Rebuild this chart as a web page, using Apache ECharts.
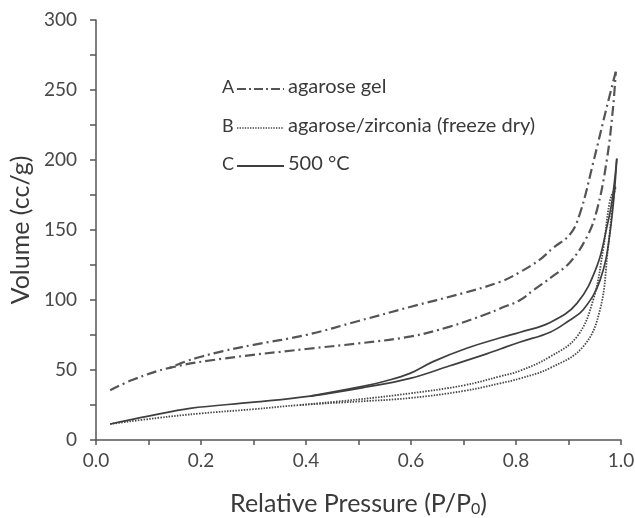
<!DOCTYPE html>
<html>
<head>
<meta charset="utf-8">
<script src="https://cdn.jsdelivr.net/npm/echarts@6/dist/echarts.min.js"></script>
<style>html,body{margin:0;padding:0;background:#fff}#c{width:635px;height:518px}</style>
</head>
<body>
<div id="c"></div>
<script>
// Sample A: agarose gel (dash-dot)
var pA_ads = [0.027, 0.07, 0.14, 0.24, 0.4, 0.5, 0.6, 0.674, 0.744, 0.77, 0.808, 0.833, 0.87, 0.903, 0.935, 0.954, 0.973, 0.985, 0.99];
var vA_ads = [35.5, 43, 51.5, 58, 65, 69, 74, 81, 90, 94, 100, 107, 117, 127, 145, 164, 200, 238, 263];
var pA_des = [0.99, 0.973, 0.947, 0.922, 0.903, 0.87, 0.846, 0.808, 0.77, 0.7, 0.598, 0.5, 0.4, 0.3, 0.242, 0.2, 0.17, 0.14];
var vA_des = [263, 238, 198, 162, 147, 137, 129, 120, 113, 105, 95, 85, 75, 68, 63.5, 59.5, 56, 51.5];
// Sample B: agarose/zirconia freeze dry (dotted)
var pB_ads = [0.027, 0.116, 0.2, 0.3, 0.389, 0.5, 0.598, 0.7, 0.77, 0.808, 0.865, 0.928, 0.96, 0.975, 0.985, 0.99];
var vB_ads = [11.4, 15.7, 19, 22, 25, 27.5, 30, 35, 40.5, 44, 51.4, 66.7, 93, 136, 171, 181];
var pB_des = [0.99, 0.979, 0.966, 0.947, 0.916, 0.865, 0.808, 0.77, 0.7, 0.598, 0.5, 0.389];
var vB_des = [181, 171, 136, 100, 73.8, 59.5, 49.5, 45.5, 39, 33.3, 29, 25];
// Sample C: 500 °C (solid)
var pC_ads = [0.027, 0.1, 0.179, 0.3, 0.408, 0.51, 0.598, 0.674, 0.744, 0.77, 0.808, 0.865, 0.9, 0.928, 0.96, 0.979, 0.992];
var vC_ads = [11.4, 17, 22.6, 27, 31.4, 37.5, 44, 53, 61.5, 65, 70, 77, 85, 93, 114, 148, 201];
var pC_des = [0.992, 0.983, 0.973, 0.954, 0.916, 0.865, 0.808, 0.77, 0.706, 0.642, 0.598, 0.55, 0.51, 0.408];
var vC_des = [201, 171, 152, 124, 97.6, 84, 77, 73, 65.5, 56, 47.6, 42, 38.5, 31.4];

var legendKeys = ['A', 'B', 'C'];
var legendNames = ['agarose gel', 'agarose/zirconia (freeze dry)', '500 °C'];

var FONT = 'Lato, "Open Sans", sans-serif';
var TXT = '#3a3a3a';
var styles = [
  {color: '#555555', width: 2.2, type: [10, 4, 2, 4]},
  {color: '#4a4a4a', width: 1.8, type: [1.5, 1.3]},
  {color: '#3f3f3f', width: 1.7, type: 'solid'}
];

function zip(p, v) { return p.map(function (x, i) { return [x, v[i]]; }); }
var branches = [
  [0, pA_ads, vA_ads], [0, pA_des, vA_des],
  [1, pB_ads, vB_ads], [1, pB_des, vB_des],
  [2, pC_ads, vC_ads], [2, pC_des, vC_des]
];
var series = branches.map(function (b) {
  var s = styles[b[0]];
  return {
    type: 'line', data: zip(b[1], b[2]), showSymbol: false, smooth: 0.4,
    lineStyle: {color: s.color, width: s.width, type: s.type}, silent: true
  };
});

var graphic = [];
var rowY = [89, 128, 166];
legendKeys.forEach(function (k, i) {
  var s = styles[i];
  graphic.push({type: 'text', left: 222, top: rowY[i] - 11,
    style: {text: k, font: '18px ' + FONT, fill: TXT}});
  graphic.push({type: 'line', shape: {x1: 237, y1: rowY[i], x2: 284, y2: rowY[i]},
    style: {stroke: s.color, lineWidth: i === 1 ? 1.5 : 1.8, lineDash: s.type === 'solid' ? null : (i === 0 ? [9, 3, 2, 3] : [1.4, 1.2])}});
  graphic.push({type: 'text', left: 288, top: rowY[i] - 12,
    style: {text: legendNames[i], font: '20px ' + FONT, fill: TXT}});
});

var chart = echarts.init(document.getElementById('c'));
chart.setOption({
  backgroundColor: '#fff',
  animation: false,
  grid: {left: 96, right: 14, top: 20, bottom: 78, outerBoundsMode: 'none', containLabel: false},
  xAxis: {
    type: 'value', min: 0, max: 1, interval: 0.1,
    name: 'Relative Pressure (P/P{s|0})', nameLocation: 'middle', nameGap: 51,
    nameTextStyle: {fontFamily: FONT, fontSize: 25, color: TXT,
      rich: {s: {fontFamily: FONT, fontSize: 16, color: TXT, verticalAlign: 'bottom', padding: [10, 0, 0, 0]}}},
    axisLine: {lineStyle: {color: '#555', width: 1.5}},
    axisTick: {length: 5, lineStyle: {color: '#555', width: 1.5}},
    axisLabel: {fontFamily: FONT, fontSize: 19, color: '#484848', margin: 11,
      formatter: function (v) { return Math.round(v * 10) % 2 === 0 ? v.toFixed(1) : ''; }},
    splitLine: {show: false}
  },
  yAxis: {
    type: 'value', min: 0, max: 300, interval: 25,
    name: 'Volume (cc/g)', nameLocation: 'middle', nameGap: 62,
    nameTextStyle: {fontFamily: FONT, fontSize: 25, color: TXT},
    axisLine: {show: true, lineStyle: {color: '#555', width: 1.5}},
    axisTick: {show: true, length: 6, lineStyle: {color: '#555', width: 1.5}},
    axisLabel: {fontFamily: FONT, fontSize: 19, color: '#484848', margin: 19,
      formatter: function (v) { return v % 50 === 0 ? String(v) : ''; }},
    splitLine: {show: false}
  },
  graphic: graphic,
  series: series
});
</script>
</body>
</html>
